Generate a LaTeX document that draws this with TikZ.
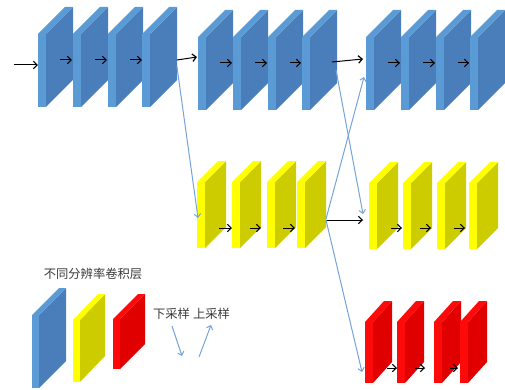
\documentclass[tikz,border=0pt]{standalone}
\usepackage{fontspec}
\newfontfamily\cjk{Noto Sans CJK SC}
\usetikzlibrary{arrows.meta}

\definecolor{blueL}{HTML}{5B9BD5}
\definecolor{blueD}{HTML}{4A7EBB}
\definecolor{yelL}{HTML}{FFFF00}
\definecolor{yelD}{HTML}{CCCC00}
\definecolor{redL}{HTML}{FF0A0A}
\definecolor{redD}{HTML}{E00000}
\definecolor{linkblue}{HTML}{74A3DA}
\definecolor{labelgray}{HTML}{3A3A3A}

% a thin 3D slab: name, x, y (front top-left), width, height, depth dx, depth dy, light, dark
\newcommand\slab[9]{%
  \coordinate (#1) at (#2,#3);
  \begin{scope}[shift={(#2,#3)}]
    \fill[#9] (#4,0) -- ++(#6,#7) -- ++(0,#5) -- (#4,#5) -- cycle;
    \fill[#8] (0,0) -- (#6,#7) -- ++(#4,0) -- (#4,0) -- cycle;
    \fill[#8] (0,0) rectangle (#4,#5);
  \end{scope}}
\newcommand\blueslab[3]{\slab{#1}{#2}{#3}{8}{73}{27}{-27}{blueL}{blueD}}
\newcommand\yelslab[3]{\slab{#1}{#2}{#3}{8}{66}{21}{-21}{yelL}{yelD}}
\newcommand\redslab[3]{\slab{#1}{#2}{#3}{8}{61}{19}{-21}{redL}{redD}}

\tikzset{
  flow/.style={draw=black, line width=1pt, -{Straight Barb[length=3.8pt,width=7.5pt,line width=1.2pt]}},
  sample/.style={draw=linkblue, line width=1pt, -{Straight Barb[length=3.4pt,width=6.5pt]}},
  caption/.style={font=\cjk\fontsize{12.3}{14}\selectfont, text=labelgray, inner sep=0pt},
}

\begin{document}
\begin{tikzpicture}[x=1pt,y=-1pt]
\useasboundingbox (0,0) rectangle (505,390);

% high-resolution branch
\blueslab{b11}{38}{34}
\blueslab{b12}{73}{34}
\blueslab{b13}{108}{34}
\blueslab{b14}{142}{34}
\blueslab{b21}{198}{37}
\blueslab{b22}{233}{37}
\blueslab{b23}{268}{37}
\blueslab{b24}{302}{37}
\blueslab{b31}{366}{37}
\blueslab{b32}{401}{37}
\blueslab{b33}{436}{37}
\blueslab{b34}{470}{37}

% medium-resolution branch
\yelslab{y11}{197}{182}
\yelslab{y12}{232}{182}
\yelslab{y13}{267}{182}
\yelslab{y14}{297}{182}
\yelslab{y21}{369}{183}
\yelslab{y22}{403}{183}
\yelslab{y23}{437}{183}
\yelslab{y24}{469}{183}

% low-resolution branch
\redslab{r1}{365}{322}
\redslab{r2}{397}{322}
\redslab{r3}{434}{322}
\redslab{r4}{460}{322}

% legend slabs
\slab{lb}{32}{315}{7}{73}{27}{-27}{blueL}{blueD}
\slab{ly}{73}{320}{7}{62}{25}{-26}{yelL}{yelD}
\slab{lr}{113}{319}{7}{50}{25}{-25}{redL}{redD}

% input
\coordinate (in) at (14,65);
\draw[flow] (in) -- ([shift={(0,31)}]b11);

% arrows inside the blue rows
\draw[flow] ([shift={(22,26)}]b11) -- ([shift={(-1,26)}]b12);
\draw[flow] ([shift={(22,26)}]b12) -- ([shift={(-1,26)}]b13);
\draw[flow] ([shift={(22,26)}]b13) -- ([shift={(0,26)}]b14);
\draw[flow] ([shift={(22,26)}]b21) -- ([shift={(-1,26)}]b22);
\draw[flow] ([shift={(22,26)}]b22) -- ([shift={(-1,26)}]b23);
\draw[flow] ([shift={(22,26)}]b23) -- ([shift={(-1,26)}]b24);
\draw[flow] ([shift={(22,26)}]b31) -- ([shift={(-1,26)}]b32);
\draw[flow] ([shift={(22,26)}]b32) -- ([shift={(-1,26)}]b33);
\draw[flow] ([shift={(22,26)}]b33) -- ([shift={(-1,26)}]b34);

% arrows inside the yellow rows
\draw[flow] ([shift={(22,46)}]y11) -- ([shift={(0,46)}]y12);
\draw[flow] ([shift={(18,46)}]y12) -- ([shift={(-6,46)}]y13);
\draw[flow] ([shift={(16,46)}]y13) -- ([shift={(-2,46)}]y14);
\draw[flow] ([shift={(22,45)}]y21) -- ([shift={(-1,45)}]y22);
\draw[flow] ([shift={(17,45)}]y22) -- ([shift={(-6,45)}]y23);
\draw[flow] ([shift={(17,45)}]y23) -- ([shift={(-4,45)}]y24);

% arrows inside the red row
\draw[flow] ([shift={(22,46)}]r1) -- ([shift={(0,46)}]r2);
\draw[flow] ([shift={(18,46)}]r2) -- ([shift={(-9,46)}]r3);
\draw[flow] ([shift={(16,46)}]r3) -- ([shift={(-2,46)}]r4);

% links between stages
\draw[flow] ([shift={(35,26)}]b14) -- ([shift={(-1,20)}]b21);
\draw[flow] ([shift={(30,25)}]b24) -- ([shift={(-3,22)}]b31);
\draw[flow] ([shift={(29,38)}]y14) -- ([shift={(-6,37)}]y21);

% down- and up-sampling
\draw[sample] ([shift={(35,33)}]b14) -- ([shift={(1,36)}]y11);
\draw[sample] ([shift={(34,33)}]b24) -- ([shift={(-6,31)}]y21);
\draw[sample] ([shift={(29,37)}]y14) -- ([shift={(-2,40)}]b31);
\draw[sample] ([shift={(29,38)}]y14) -- ([shift={(-3,50)}]r1);

% legend
\node[caption] (cap) at (93,274) {不同分辨率卷积层};
\node[caption] (down) at (171.5,314) {下采样};
\node[caption] (up) at (211.5,314) {上采样};
\coordinate (d1) at (172,326);
\coordinate (d2) at (182,356);
\coordinate (u1) at (199,357);
\coordinate (u2) at (211,325);
\draw[sample] (d1) -- (d2);
\draw[sample] (u1) -- (u2);
\end{tikzpicture}
\end{document}
